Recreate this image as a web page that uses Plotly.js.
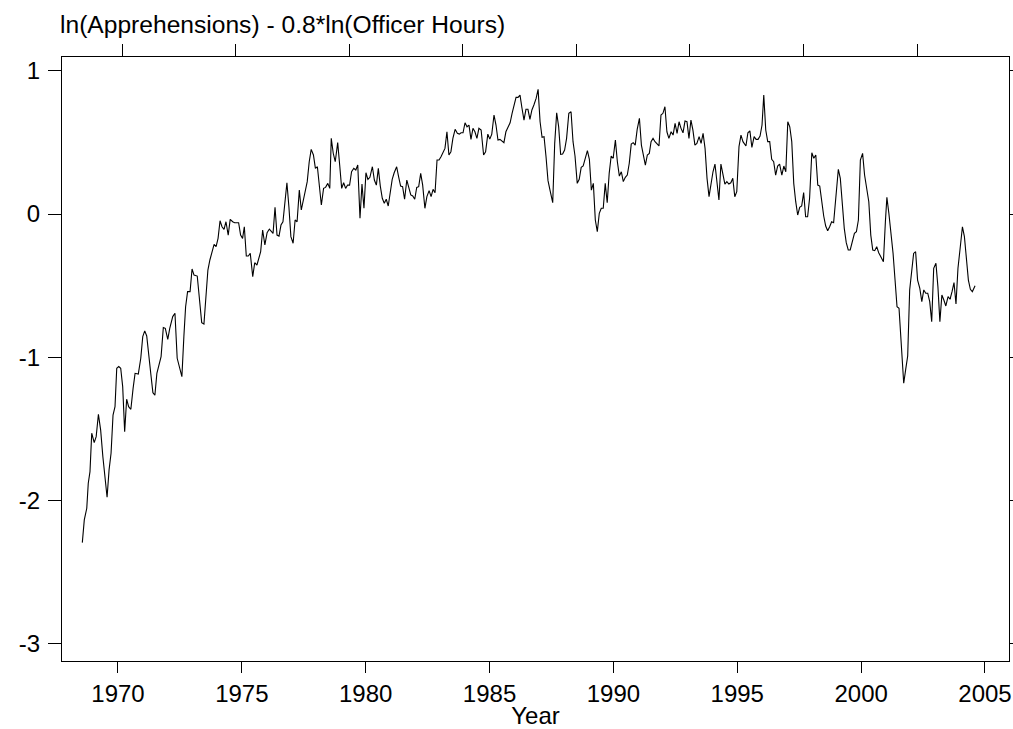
<!DOCTYPE html>
<html>
<head>
<meta charset="utf-8">
<script src="https://cdn.plot.ly/plotly-3.0.1.min.js"></script>
<style>html,body{margin:0;padding:0;background:#fff;}#chart{width:1013px;height:729px;}</style>
</head>
<body>
<div id="chart"></div>
<script>
// decimal year of each observation
var years = [
1968.56,1968.64,1968.74,1968.80,1968.87,1968.94,1969.04,1969.12,1969.21,1969.30,1969.39,1969.48,1969.56,1969.64,1969.72,1969.80,1969.88,1969.95,
1970.03,1970.11,1970.19,1970.27,1970.35,1970.43,1970.52,1970.61,1970.69,1970.82,1970.92,1971.00,1971.08,1971.16,1971.24,1971.33,1971.41,1971.49,
1971.57,1971.66,1971.74,1971.83,1971.91,1972.01,1972.09,
1972.21,1972.30,1972.39,1972.49,1972.58,1972.66,1972.73,1972.81,1972.91,1972.99,1973.07,1973.20,1973.28,1973.38,1973.47,1973.55,1973.63,1973.71,
1973.79,1973.88,1973.96,1974.04,1974.12,1974.20,1974.28,1974.36,1974.45,1974.53,1974.63,1974.71,1974.79,1974.87,1974.95,1975.03,1975.10,1975.18,
1975.26,1975.34,1975.44,1975.52,1975.61,1975.69,1975.76,1975.84,1975.93,1976.02,1976.11,
1976.20,1976.26,1976.34,1976.42,1976.50,1976.58,1976.66,1976.74,1976.82,1976.90,1976.98,1977.07,1977.15,1977.23,1977.32,1977.40,1977.48,1977.56,
1977.64,1977.72,1977.80,1977.89,1977.97,1978.05,1978.13,1978.21,1978.30,1978.38,1978.47,1978.55,1978.61,1978.69,1978.77,1978.87,1978.95,1979.03,
1979.11,1979.19,1979.27,1979.35,1979.43,1979.52,1979.60,1979.68,1979.77,1979.85,1979.93,
1980.01,1980.09,1980.17,1980.27,1980.35,1980.43,1980.51,1980.59,1980.67,1980.75,1980.83,1980.91,1980.99,1981.07,1981.15,1981.25,1981.33,1981.41,
1981.49,1981.57,1981.66,1981.74,1981.82,1981.90,1981.98,1982.06,1982.14,1982.22,1982.30,1982.39,1982.47,1982.56,1982.64,1982.72,1982.80,1982.88,
1982.96,1983.04,1983.12,1983.20,1983.28,1983.36,1983.44,1983.52,1983.61,1983.70,1983.78,
1983.85,1983.93,1984.01,1984.09,1984.17,1984.25,1984.33,1984.41,1984.49,1984.57,1984.66,1984.76,1984.84,1984.93,1985.01,1985.09,1985.18,1985.26,
1985.34,1985.42,1985.50,1985.58,1985.66,1985.74,1985.83,1985.91,1985.99,1986.07,1986.15,1986.23,1986.31,1986.39,1986.47,1986.55,1986.63,1986.71,
1986.79,1986.88,1986.96,1987.04,1987.12,1987.20,1987.28,1987.36,1987.44,1987.55,
1987.63,1987.71,1987.79,1987.87,1987.95,1988.03,1988.11,1988.20,1988.29,1988.37,1988.45,1988.54,1988.62,1988.70,1988.78,1988.87,1988.95,1989.03,
1989.11,1989.19,1989.27,1989.35,1989.43,1989.51,1989.59,1989.67,1989.75,1989.83,1989.91,1989.99,1990.08,1990.16,1990.24,1990.32,1990.40,1990.48,
1990.56,1990.64,1990.72,1990.80,1990.88,1990.96,1991.05,1991.13,1991.21,1991.29,1991.37,1991.45,
1991.52,1991.60,1991.68,1991.76,1991.84,1991.92,1992.00,1992.08,1992.16,1992.24,1992.33,1992.41,1992.49,1992.57,1992.65,1992.73,1992.81,1992.89,
1992.97,1993.05,1993.13,1993.21,1993.29,1993.37,1993.46,1993.54,1993.62,1993.70,1993.78,1993.86,1993.94,1994.02,1994.10,1994.18,1994.26,1994.34,
1994.42,1994.50,1994.58,1994.66,1994.74,1994.82,1994.90,1994.98,1995.07,1995.15,1995.23,
1995.35,1995.43,1995.51,1995.59,1995.68,1995.76,1995.84,1995.92,1996.00,1996.07,1996.15,1996.23,1996.31,1996.39,1996.47,1996.55,1996.63,1996.71,
1996.80,1996.88,1996.96,1997.04,1997.12,1997.20,1997.28,1997.36,1997.44,1997.52,1997.60,1997.68,1997.76,1997.84,1997.92,1998.01,1998.09,1998.17,
1998.25,1998.33,1998.41,1998.49,1998.57,1998.65,1998.73,1998.81,1998.89,1998.97,
1999.08,1999.16,1999.24,1999.32,1999.40,1999.48,1999.56,1999.64,1999.73,1999.81,1999.89,1999.97,2000.06,2000.14,2000.23,2000.31,2000.39,2000.47,
2000.55,2000.63,2000.71,2000.79,2000.90,2000.98,2001.04,2001.12,2001.20,2001.29,2001.37,2001.45,2001.53,2001.61,2001.72,2001.80,2001.88,2001.96,
2002.04,2002.12,2002.20,2002.28,2002.37,2002.45,2002.53,2002.61,2002.69,2002.77,2002.85,2002.93,
2003.02,2003.10,2003.18,2003.26,2003.34,2003.42,2003.51,2003.59,2003.67,2003.75,2003.83,2003.91,2003.99,2004.09,2004.17,2004.25,2004.33,2004.41,
2004.49,2004.60
];
// ln(Apprehensions) - 0.8*ln(Officer Hours)
var values = [
-2.294,-2.135,-2.054,-1.879,-1.798,-1.530,-1.596,-1.554,-1.398,-1.507,-1.694,-1.856,-1.977,-1.786,-1.670,-1.403,-1.345,-1.077,
-1.065,-1.077,-1.205,-1.519,-1.293,-1.345,-1.363,-1.217,-1.112,-1.117,-1.007,-0.856,-0.816,-0.851,-0.996,-1.124,-1.247,-1.265,
-1.112,-1.042,-0.996,-0.793,-0.798,-0.875,-0.798,
-0.716,-0.693,-1.007,-1.065,-1.135,-0.856,-0.647,-0.542,-0.542,-0.384,-0.426,-0.433,-0.600,-0.758,-0.768,-0.554,-0.391,-0.321,
-0.263,-0.212,-0.228,-0.170,-0.047,-0.089,-0.107,-0.054,-0.147,-0.037,-0.054,-0.061,-0.061,-0.061,-0.147,-0.170,-0.089,-0.293,
-0.293,-0.275,-0.437,-0.340,-0.356,-0.298,-0.263,-0.112,-0.216,-0.130,-0.105,
-0.123,-0.135,0.047,-0.147,-0.154,-0.077,-0.054,0.098,0.218,0.051,-0.158,-0.204,-0.042,-0.054,0.167,0.028,0.098,0.156,
0.226,0.365,0.451,0.412,0.319,0.330,0.214,0.063,0.179,0.186,0.214,0.179,0.528,0.424,0.365,0.498,0.342,0.179,
0.218,0.179,0.202,0.202,0.295,0.319,0.307,0.342,-0.030,0.209,0.040,
0.288,0.242,0.256,0.330,0.237,0.202,0.319,0.195,0.110,0.075,0.103,0.056,0.156,0.242,0.288,0.330,0.260,0.195,
0.191,0.103,0.237,0.186,0.133,0.126,0.103,0.186,0.191,0.284,0.202,0.040,0.121,0.163,0.121,0.172,0.149,0.377,
0.377,0.400,0.435,0.458,0.574,0.412,0.435,0.528,0.591,0.563,0.558,
0.567,0.567,0.637,0.609,0.621,0.521,0.598,0.574,0.528,0.598,0.586,0.412,0.435,0.558,0.523,0.558,0.691,0.621,
0.516,0.521,0.512,0.498,0.574,0.609,0.637,0.703,0.761,0.814,0.814,0.830,0.738,0.656,0.731,0.731,0.661,0.726,
0.761,0.807,0.870,0.644,0.535,0.540,0.400,0.233,0.167,0.079,
0.493,0.707,0.609,0.417,0.419,0.447,0.528,0.703,0.714,0.505,0.405,0.214,0.242,0.326,0.335,0.389,0.442,0.382,
0.167,0.214,-0.042,-0.123,0.005,0.040,0.040,0.214,0.079,0.284,0.405,0.389,0.516,0.365,0.265,0.295,0.226,0.256,
0.272,0.354,0.488,0.498,0.481,0.591,0.668,0.481,0.400,0.342,0.412,0.423,
0.505,0.528,0.505,0.493,0.475,0.691,0.703,0.749,0.574,0.528,0.574,0.551,0.633,0.563,0.644,0.598,0.567,0.649,
0.644,0.528,0.656,0.586,0.481,0.493,0.540,0.493,0.563,0.458,0.249,0.121,0.226,0.295,0.349,0.202,0.098,0.349,
0.272,0.209,0.226,0.209,0.218,0.249,0.121,0.156,0.470,0.551,0.505,
0.475,0.567,0.581,0.465,0.540,0.521,0.521,0.544,0.621,0.830,0.586,0.505,0.505,0.382,0.365,0.272,0.335,0.349,
0.272,0.335,0.295,0.644,0.609,0.505,0.214,0.086,-0.007,0.047,0.056,0.149,-0.019,-0.019,0.110,0.428,0.389,0.412,
0.202,0.195,0.086,-0.014,-0.084,-0.117,-0.089,-0.054,-0.061,0.075,
0.312,0.249,0.040,-0.100,-0.200,-0.251,-0.251,-0.204,-0.135,-0.123,-0.042,0.377,0.423,0.272,0.179,0.086,-0.147,-0.251,
-0.256,-0.228,-0.270,-0.293,-0.333,-0.054,0.116,0.005,-0.112,-0.275,-0.461,-0.647,-0.658,-0.868,-1.181,-1.084,-0.991,-0.530,
-0.403,-0.275,-0.263,-0.461,-0.519,-0.612,-0.530,-0.553,-0.553,-0.612,-0.751,-0.379,
-0.344,-0.507,-0.751,-0.565,-0.600,-0.642,-0.577,-0.595,-0.542,-0.479,-0.628,-0.379,-0.251,-0.089,-0.158,-0.321,-0.461,-0.526,
-0.542,-0.500
];
var xTicks = [1970,1975,1980,1985,1990,1995,2000,2005];
var yTicks = [-3,-2,-1,0,1];

var font = {family: 'Liberation Sans, Arial, sans-serif', size: 24, color: '#000'};
var titleFont = {family: 'Liberation Sans, Arial, sans-serif', size: 24.6, color: '#000'};

var trace = {
  x: years, y: values, type: 'scatter', mode: 'lines',
  line: {color: '#000', width: 1.1}, hoverinfo: 'x+y', showlegend: false
};
// empty trace so the top tick axis (xaxis2) is created
var topAxisHolder = {x: [], y: [], type: 'scatter', mode: 'lines', xaxis: 'x2', yaxis: 'y',
  hoverinfo: 'skip', showlegend: false};

var layout = {
  width: 1013, height: 729,
  margin: {l: 62, r: 4, t: 57, b: 68, pad: 0},
  paper_bgcolor: '#fff', plot_bgcolor: '#fff',
  font: font,
  title: {text: 'ln(Apprehensions) - 0.8*ln(Officer Hours)', x: 60/1013, xref: 'container', xanchor: 'left',
          y: 1 - 24/729, yref: 'container', yanchor: 'middle', font: titleFont},
  xaxis: {
    range: [1967.74, 2005.97], tickvals: xTicks, ticktext: xTicks.map(String),
    ticks: 'outside', ticklen: 11, tickwidth: 1, tickcolor: '#000',
    showline: true, linecolor: '#000', linewidth: 1, mirror: true,
    showgrid: false, zeroline: false, tickfont: font,
    title: {text: 'Year', font: font, standoff: 0}
  },
  xaxis2: {
    overlaying: 'x', side: 'top', anchor: 'y', range: [0, 1],
    tickvals: [0.0644, 0.1837, 0.3031, 0.4234, 0.5438, 0.6631, 0.7825, 0.9029],
    showticklabels: false, ticks: 'outside', ticklen: 12, tickwidth: 1, tickcolor: '#000',
    showline: false, showgrid: false, zeroline: false
  },
  yaxis: {
    range: [-3.12, 1.096], tickvals: yTicks, ticktext: yTicks.map(String),
    ticks: 'outside', ticklen: 13, tickwidth: 1, tickcolor: '#000', ticklabelstandoff: 3,
    showline: true, linecolor: '#000', linewidth: 1, mirror: 'ticks',
    showgrid: false, zeroline: false, tickfont: font
  }
};

Plotly.newPlot('chart', [trace, topAxisHolder], layout, {displayModeBar: false, staticPlot: true});
</script>
</body>
</html>
